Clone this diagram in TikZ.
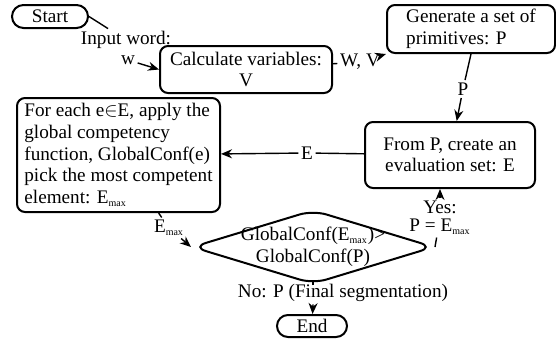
\documentclass[tikz,border=0pt]{standalone}
\usepackage{fontspec}
\setmainfont{Liberation Serif}
\usepackage{tikz}
\usetikzlibrary{arrows.meta, shapes.misc, shapes.geometric}
\newcommand{\Emax}{E\textsubscript{\fontsize{5}{5}\selectfont max}}
\tikzset{
		terminal/.style={draw, line width=1pt, rounded rectangle, inner sep=0pt},
		process/.style={draw, line width=1pt, rounded corners=4pt, inner sep=0pt},
		decision/.style={draw, line width=1pt, diamond, rounded corners=7pt, inner sep=0pt, minimum width=121pt, minimum height=37pt},
		lbl/.style={inner sep=1pt, font=\fontsize{9.6}{9}\selectfont}
	}

\begin{document}
\begin{tikzpicture}[x=0.5pt, y=-0.5pt, >={Stealth[length=5.5pt,width=4.5pt]}, line width=0.7pt,
		every node/.style={font=\fontsize{9.6}{10.8}\selectfont}]
				\useasboundingbox (0,0) rectangle (556,343);
				\node[terminal, minimum width=38pt, minimum height=11.5pt] (start) at (50,16.5) {Start};
				\node[lbl]                    (inword) at (126,40)    {Input word:};
				\node[lbl]                    (inw)    at (128,60)    {w};
				\node[process, minimum width=86pt, minimum height=23.5pt, align=center] (calc) at (246,69.5) {Calculate variables:\\V};
				\node[lbl]                    (wv)     at (360,62)    {W, V};
				\node[process, minimum width=84pt, minimum height=24pt, align=left] (gen) at (471,29) {Generate a set of\\primitives: P};
				\node[lbl]                    (p)      at (463,89)    {P};
				\node[process, minimum width=85pt, minimum height=33pt, align=center] (fromp) at (450,155) {From P, create an\\evaluation set: E};
				\node[lbl]                    (e)      at (307,153)   {E};
				\node[process, minimum width=101.5pt, minimum height=57pt, align=left] (each) at (118.5,155) {For each e$\in$E, apply the\\global competency\\function, GlobalConf(e)\\pick the most competent\\element: \Emax};
				\node[lbl]                    (emax)   at (169,228)   {\Emax};
				\node[decision, label={[align=center]center:GlobalConf(\Emax)>\\GlobalConf(P)}] (dec) at (313,247) {};
				\node[lbl, align=center]      (yes)    at (440,218)   {Yes:\\P = \Emax};
				\node[lbl]                    (no)     at (343,293)   {No: P (Final segmentation)};
				\node[terminal, minimum width=35pt, minimum height=11pt] (end) at (312,326) {End};

				\draw (start.east) -- (inword);
				\draw[->] (inw) -- (calc.west);
				\draw (calc) -- (wv);
				\draw[->] (wv) -- (gen.south west);
				\draw (gen.south) -- (p);
				\draw[->] (p) -- (fromp);
				\draw (fromp) -- (e);
				\draw[->] (e) -- (each);
				\draw (each) -- (emax);
				\draw[->] (emax) -- (dec.west);
				\draw (dec.east) -- (yes);
				\draw[->] (yes) -- (yes |- fromp.south);
				\draw (dec.south) -- (dec.south |- no.north);
				\draw[->] (dec.south |- no.south) -- (end);
			\end{tikzpicture}
\end{document}
